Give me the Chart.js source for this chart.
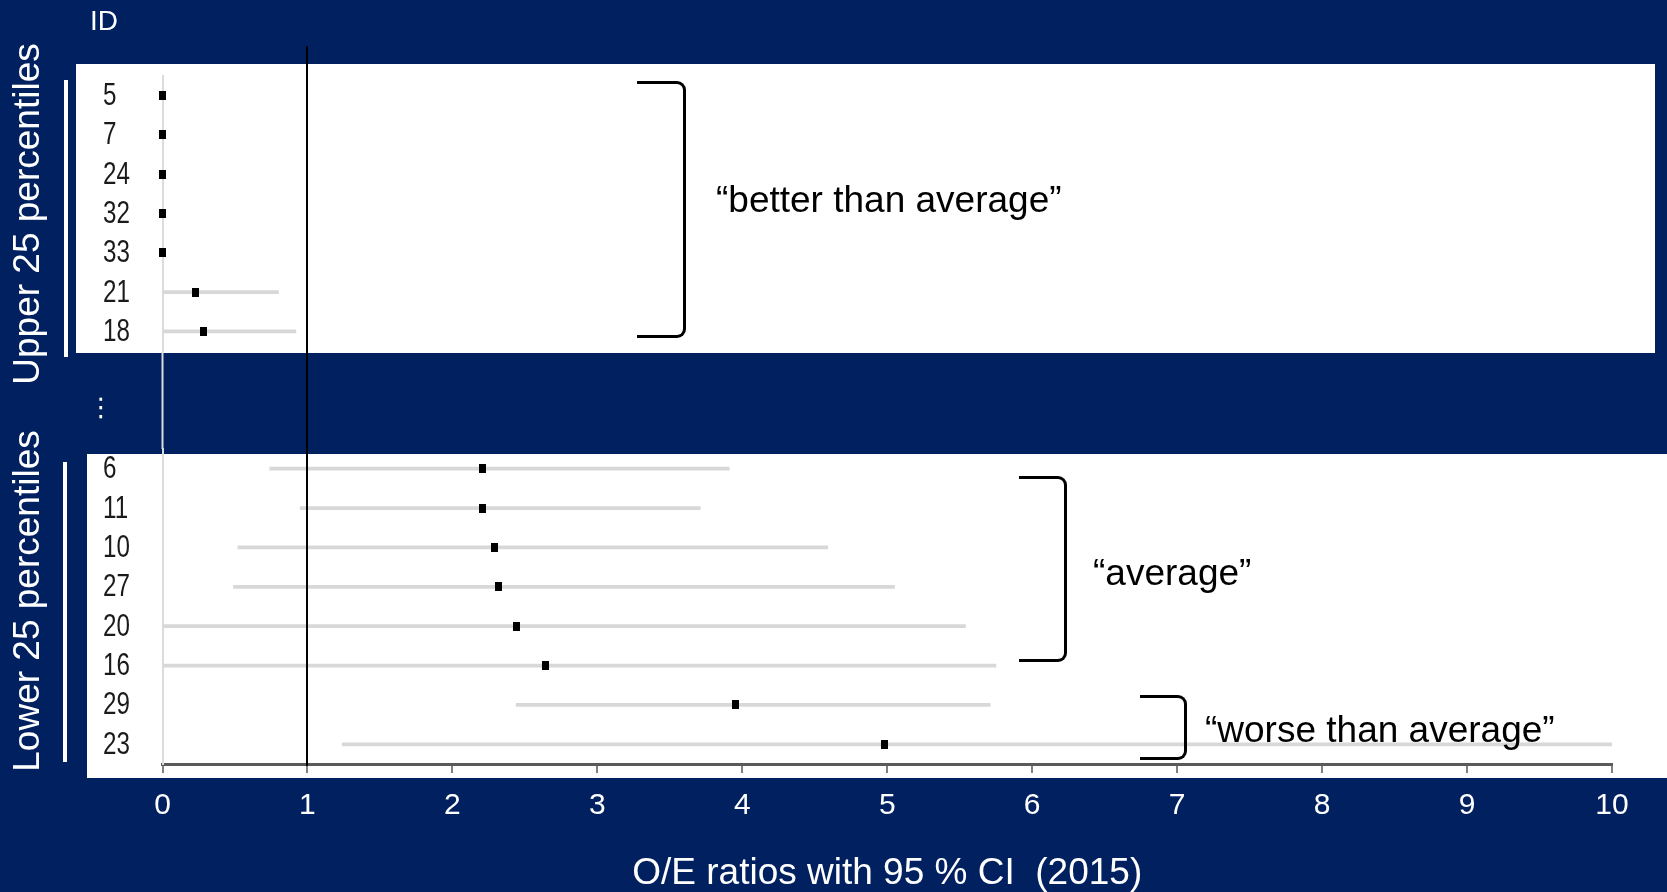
<!DOCTYPE html>
<html>
<head>
<meta charset="utf-8">
<script src="https://cdn.jsdelivr.net/npm/chart.js@4.4.1/dist/chart.umd.min.js"></script>
<style>
  html, body { margin: 0; padding: 0; }
  body {
    width: 1667px; height: 892px; background: #002060;
    position: relative; overflow: hidden;
    font-family: 'Liberation Sans', Arial, sans-serif;
  }
  .panel { position: absolute; background: #fff; }
  .wrap { position: absolute; left: 0; width: 1667px; }
  .note { position: absolute; color: #000; font-size: 37px; line-height: 36px; white-space: nowrap; }
  .bracket {
    position: absolute; box-sizing: border-box;
    border: 3px solid #000; border-left: none; border-radius: 0 9px 9px 0;
  }
  .side {
    position: absolute; color: #fff; font-size: 37px; line-height: 36px; white-space: nowrap;
    transform: translate(-50%, -50%) rotate(-90deg);
  }
  .bar { position: absolute; background: #fff; width: 4px; }
</style>
</head>
<body>
<div class="panel" style="left:76px; top:64px; width:1579px; height:289px;"></div>
<div class="panel" style="left:87px; top:454px; width:1580px; height:324px;"></div>

<div class="wrap" style="top:0; height:352px;"><canvas id="upper" width="1667" height="352"></canvas></div>
<div class="wrap" style="top:352px; height:540px;"><canvas id="lower" width="1667" height="540"></canvas></div>

<div style="position:absolute; left:90px; top:7px; color:#fff; font-size:28px; line-height:28px;">ID</div>
<div style="position:absolute; left:88px; top:394px; color:#fff; font-family:'DejaVu Sans'; font-size:26px; line-height:26px;">⋮</div>

<div class="side" style="left:27px; top:214px;">Upper 25 percentiles</div>
<div class="side" style="left:27px; top:601px;">Lower 25 percentiles</div>
<div class="bar" style="left:64px; top:80px; height:277px;"></div>
<div class="bar" style="left:63px; top:462px; height:300px;"></div>

<div class="bracket" style="left:637px; top:81px; width:49px; height:257px;"></div>
<div class="note" style="left:716px; top:182px;">“better than average”</div>
<div class="bracket" style="left:1019px; top:476px; width:48px; height:186px;"></div>
<div class="note" style="left:1093px; top:555px;">“average”</div>
<div class="bracket" style="left:1140px; top:695px; width:47px; height:65px;"></div>
<div class="note" style="left:1205px; top:712px;">“worse than average”</div>

<script>
// upper 25 percentiles
const upperIds = ['5', '7', '24', '32', '33', '21', '18'];
const upperEst = [0, 0, 0, 0, 0, 0.23, 0.28];
const upperLow = [0, 0, 0, 0, 0, 0, 0];
const upperHigh = [0, 0, 0, 0, 0, 0.80, 0.92];

// lower 25 percentiles
const lowerIds = ['6', '11', '10', '27', '20', '16', '29', '23'];
const lowerEst = [2.21, 2.21, 2.29, 2.32, 2.44, 2.64, 3.95, 4.98];
const lowerLow = [0.74, 0.95, 0.52, 0.49, 0, 0, 2.44, 1.24];
const lowerHigh = [3.91, 3.71, 4.59, 5.05, 5.54, 5.75, 5.71, 10];

const xTicks = [0, 1, 2, 3, 4, 5, 6, 7, 8, 9, 10];
const refValue = 1;

Chart.defaults.font.family = "'Liberation Sans', Arial, sans-serif";

// small black square marker, a bit taller than wide
const marker = document.createElement('canvas');
marker.width = 7;
marker.height = 9;
const mctx = marker.getContext('2d');
mctx.fillStyle = '#000';
mctx.fillRect(0, 0, 7, 9);

const refLines = {
  id: 'refLines',
  afterDatasetsDraw(chart, args, opts) {
    const { ctx, chartArea, scales: { x } } = chart;
    ctx.save();
    if (opts.gap) {
      // light zero line across the navy gap
      const x0 = x.getPixelForValue(0);
      ctx.strokeStyle = '#dcdcdc';
      ctx.lineWidth = 2;
      ctx.beginPath();
      ctx.moveTo(x0, 0);
      ctx.lineTo(x0, chartArea.top);
      ctx.stroke();
    }
    const x1 = Math.round(x.getPixelForValue(refValue));
    ctx.strokeStyle = '#000';
    ctx.lineWidth = 2;
    ctx.beginPath();
    ctx.moveTo(x1, opts.top);
    ctx.lineTo(x1, opts.toAxis ? chartArea.bottom + 2 : chart.height);
    ctx.stroke();
    ctx.restore();
  }
};

// ID labels in a narrow face, left aligned at the scale's left edge
const idLabels = {
  id: 'idLabels',
  afterDraw(chart) {
    const { ctx, scales: { y } } = chart;
    ctx.save();
    ctx.fillStyle = '#1a1a1a';
    ctx.font = "31px 'Liberation Sans', Arial, sans-serif";
    ctx.textBaseline = 'middle';
    ctx.textAlign = 'left';
    y.ticks.forEach((t, i) => {
      ctx.save();
      ctx.translate(y.left, y.getPixelForTick(i) + 1);
      ctx.scale(0.78, 1);
      ctx.fillText(y.getLabelForValue(t.value), 0, 0);
      ctx.restore();
    });
    ctx.restore();
  }
};

function forest(id, ids, est, low, high, showAxis, padding, lineOpts) {
  const xScale = {
    type: 'linear', min: 0, max: 10, display: showAxis,
    afterBuildTicks: (s) => { s.ticks = xTicks.map((v) => ({ value: v })); },
    grid: { drawOnChartArea: false, drawTicks: true, tickLength: 9, color: '#808080', lineWidth: 2 },
    border: { color: '#5a5a5a', width: 3 },
    ticks: { color: '#fff', padding: 15, autoSkip: false, maxRotation: 0, font: { size: 30 } },
    title: {
      display: true, text: 'O/E ratios with 95 % CI  (2015)', color: '#fff',
      font: { size: 37, lineHeight: 1 }, padding: { top: 0, bottom: 0 }
    },
    afterFit: (s) => { s.height = showAxis ? 128 : 0; }
  };
  return new Chart(document.getElementById(id), {
    type: 'bar',
    data: {
      labels: ids,
      datasets: [
        {
          type: 'line', indexAxis: 'y', data: est, showLine: false, clip: false,
          pointStyle: marker, pointRadius: 5, order: 0
        },
        {
          type: 'bar', indexAxis: 'y', data: low.map((l, i) => [l, high[i]]),
          backgroundColor: '#d8d8d8', barThickness: 3, order: 1
        }
      ]
    },
    options: {
      indexAxis: 'y',
      responsive: false,
      animation: false,
      layout: { padding: padding, autoPadding: false },
      plugins: { legend: { display: false }, tooltip: { enabled: false }, refLines: lineOpts },
      scales: {
        x: xScale,
        y: {
          type: 'category', offset: true,
          grid: { display: false },
          border: { display: true, color: '#dcdcdc', width: 2 },
          ticks: { display: false },
          afterFit: (s) => { s.width = 59.5; }
        }
      }
    },
    plugins: [refLines, idLabels]
  });
}

forest('upper', upperIds, upperEst, upperLow, upperHigh, false,
  { left: 103, right: 55, top: 76, bottom: 1 }, { top: 46, toAxis: false });
forest('lower', lowerIds, lowerEst, lowerLow, lowerHigh, true,
  { left: 103, right: 55, top: 97, bottom: 0 }, { top: 0, toAxis: true, gap: true });
</script>
</body>
</html>
